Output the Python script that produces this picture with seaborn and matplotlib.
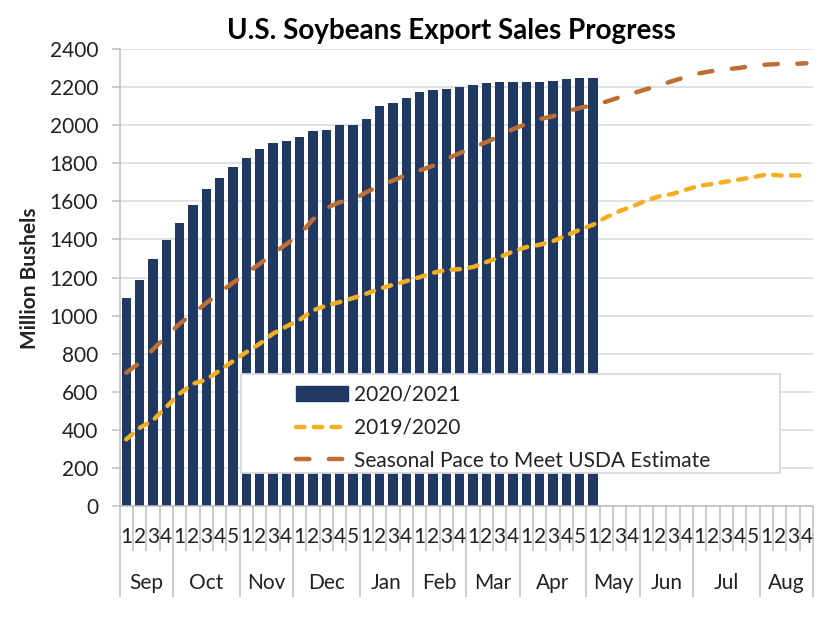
import numpy as np
import pandas as pd
import matplotlib
matplotlib.use("Agg")
import matplotlib.pyplot as plt
from matplotlib.patches import Patch, Rectangle
from matplotlib.lines import Line2D
import seaborn as sns

# ---------------- data ----------------
months = ["Sep", "Oct", "Nov", "Dec", "Jan", "Feb", "Mar", "Apr", "May", "Jun", "Jul", "Aug"]
weeks_per_month = [4, 5, 4, 5, 4, 4, 4, 5, 4, 4, 5, 4]

sales_2020_21 = [1095, 1185, 1298, 1395, 1487, 1582, 1664, 1722, 1778, 1829,
                 1876, 1906, 1918, 1939, 1969, 1975, 2002, 2002, 2035, 2101,
                 2117, 2145, 2172, 2187, 2191, 2201, 2213, 2220, 2226, 2228,
                 2226, 2228, 2231, 2242, 2247, 2250]

sales_2019_20 = [350, 410, 450, 520, 590, 642, 663, 712, 761, 808,
                 852, 905, 943, 978, 1027, 1053, 1071, 1092, 1115, 1141,
                 1162, 1181, 1202, 1225, 1239, 1244, 1255, 1281, 1307, 1337,
                 1360, 1372, 1391, 1421, 1451, 1477, 1517, 1549, 1575, 1605,
                 1627, 1640, 1662, 1682, 1692, 1704, 1715, 1727, 1741, 1736,
                 1736, 1736]

seasonal_pace = [700, 752, 822, 891, 957, 1010, 1066, 1122, 1172, 1221,
                 1272, 1325, 1375, 1426, 1505, 1564, 1596, 1608, 1648, 1682,
                 1710, 1738, 1762, 1787, 1822, 1853, 1884, 1911, 1944, 1979,
                 2007, 2032, 2047, 2072, 2091, 2105, 2124, 2147, 2168, 2189,
                 2210, 2233, 2254, 2273, 2285, 2294, 2301, 2313, 2318, 2322,
                 2322, 2325]

series_names = ["2020/2021", "2019/2020", "Seasonal Pace to Meet USDA Estimate"]
title = "U.S. Soybeans Export Sales Progress"
y_label = "Million Bushels"
y_ticks = list(range(0, 2401, 200))

# ---------------- style ----------------
navy = "#1F3864"
yellow = "#F4AE22"
brown = "#BC6E34"
grid_c = "#D9D9D9"
axis_c = "#BFBFBF"
text_c = "#222222"

sns.set_theme(style="white")
plt.rcParams['font.family'] = ['Lato', 'DejaVu Sans']

week_nums = []
for n in weeks_per_month:
    week_nums.extend(range(1, n + 1))
idx = np.arange(len(week_nums))

fig = plt.figure(figsize=(8.23, 6.23), dpi=100)
ax = fig.add_axes([0.1453, 0.1878, 0.988 - 0.1453, 0.9213 - 0.1878])

bar_df = pd.DataFrame({"pos": idx[:len(sales_2020_21)], "val": sales_2020_21})
sns.barplot(data=bar_df, x="pos", y="val", color=navy, saturation=1,
            width=0.7, native_scale=True, ax=ax, zorder=2, linewidth=0)

line_df = pd.DataFrame({"pos": idx, "y1920": sales_2019_20, "seas": seasonal_pace})
lw = 3.2
dash_y = (1.9, 2.1)
dash_b = (3.0, 4.4)
sns.lineplot(data=line_df, x="pos", y="y1920", color=yellow, lw=lw, ax=ax, zorder=3)
l1 = ax.lines[-1]
l1.set_dashes(dash_y); l1.set_dash_capstyle("round")
sns.lineplot(data=line_df, x="pos", y="seas", color=brown, lw=lw, ax=ax, zorder=3)
l2 = ax.lines[-1]
l2.set_dashes(dash_b); l2.set_dash_capstyle("round")

ax.set_xlim(-0.5, len(idx) - 0.5)
ax.set_ylim(0, 2400)
ax.set_yticks(y_ticks)
ax.set_yticklabels([str(v) for v in y_ticks], fontsize=15, color=text_c)
ax.yaxis.grid(True, color=grid_c, lw=1.1)
ax.set_axisbelow(True)
ax.set_xlabel("")
ax.set_ylabel("")

for s in ["top", "right"]:
    ax.spines[s].set_visible(False)
for s in ["left", "bottom"]:
    ax.spines[s].set_color(axis_c)
    ax.spines[s].set_linewidth(1.1)

ax.tick_params(axis="y", which="both", left=True, length=5.5, width=1.1,
               color=axis_c, pad=10)

# x axis: month boundaries (major) and week boundaries (minor)
bounds = np.concatenate([[0], np.cumsum(weeks_per_month)]) - 0.5
ax.set_xticks(bounds)
ax.set_xticks(idx[:-1] + 0.5, minor=True)
ax.tick_params(axis="x", which="major", bottom=True, length=65.5, width=1.1,
               color=axis_c, labelbottom=False)
ax.tick_params(axis="x", which="minor", bottom=True, length=32.4, width=1.1,
               color=axis_c, labelbottom=False)

trans = ax.get_xaxis_transform()
for i, w in zip(idx, week_nums):
    ax.text(i, -0.0678, str(w), transform=trans, ha="center", va="center",
            fontsize=15, color=text_c, clip_on=False)
for m, a, b in zip(months, bounds[:-1], bounds[1:]):
    ax.text((a + b) / 2, -0.1685, m, transform=trans, ha="center", va="center",
            fontsize=15, color=text_c, clip_on=False)

# legend box
ax.add_patch(Rectangle((0.175, 0.072), 0.777, 0.217, transform=ax.transAxes,
                       facecolor="white", edgecolor=grid_c, lw=1.3, zorder=4))
handles = [Patch(facecolor=navy, edgecolor=navy),
           Line2D([], [], color=yellow, lw=lw, dashes=dash_y, dash_capstyle="round"),
           Line2D([], [], color=brown, lw=lw, dashes=dash_b, dash_capstyle="round")]
leg = ax.legend(handles, series_names, loc="upper left",
                bbox_to_anchor=(0.2544, 0.265), frameon=False, fontsize=15,
                borderpad=0, borderaxespad=0, handlelength=2.5,
                handletextpad=0.3, labelspacing=0.62, handleheight=0.7)
leg.set_zorder(5)
for t in leg.get_texts():
    t.set_color(text_c)

fig.text(0.548, 0.950, title, ha="center", va="center", fontsize=20,
         fontweight="bold", color="black")
fig.text(0.036, 0.554, y_label, ha="center", va="center", rotation=90,
         fontsize=15, fontweight="bold", color=text_c)

fig.savefig("out.png", dpi=100)
